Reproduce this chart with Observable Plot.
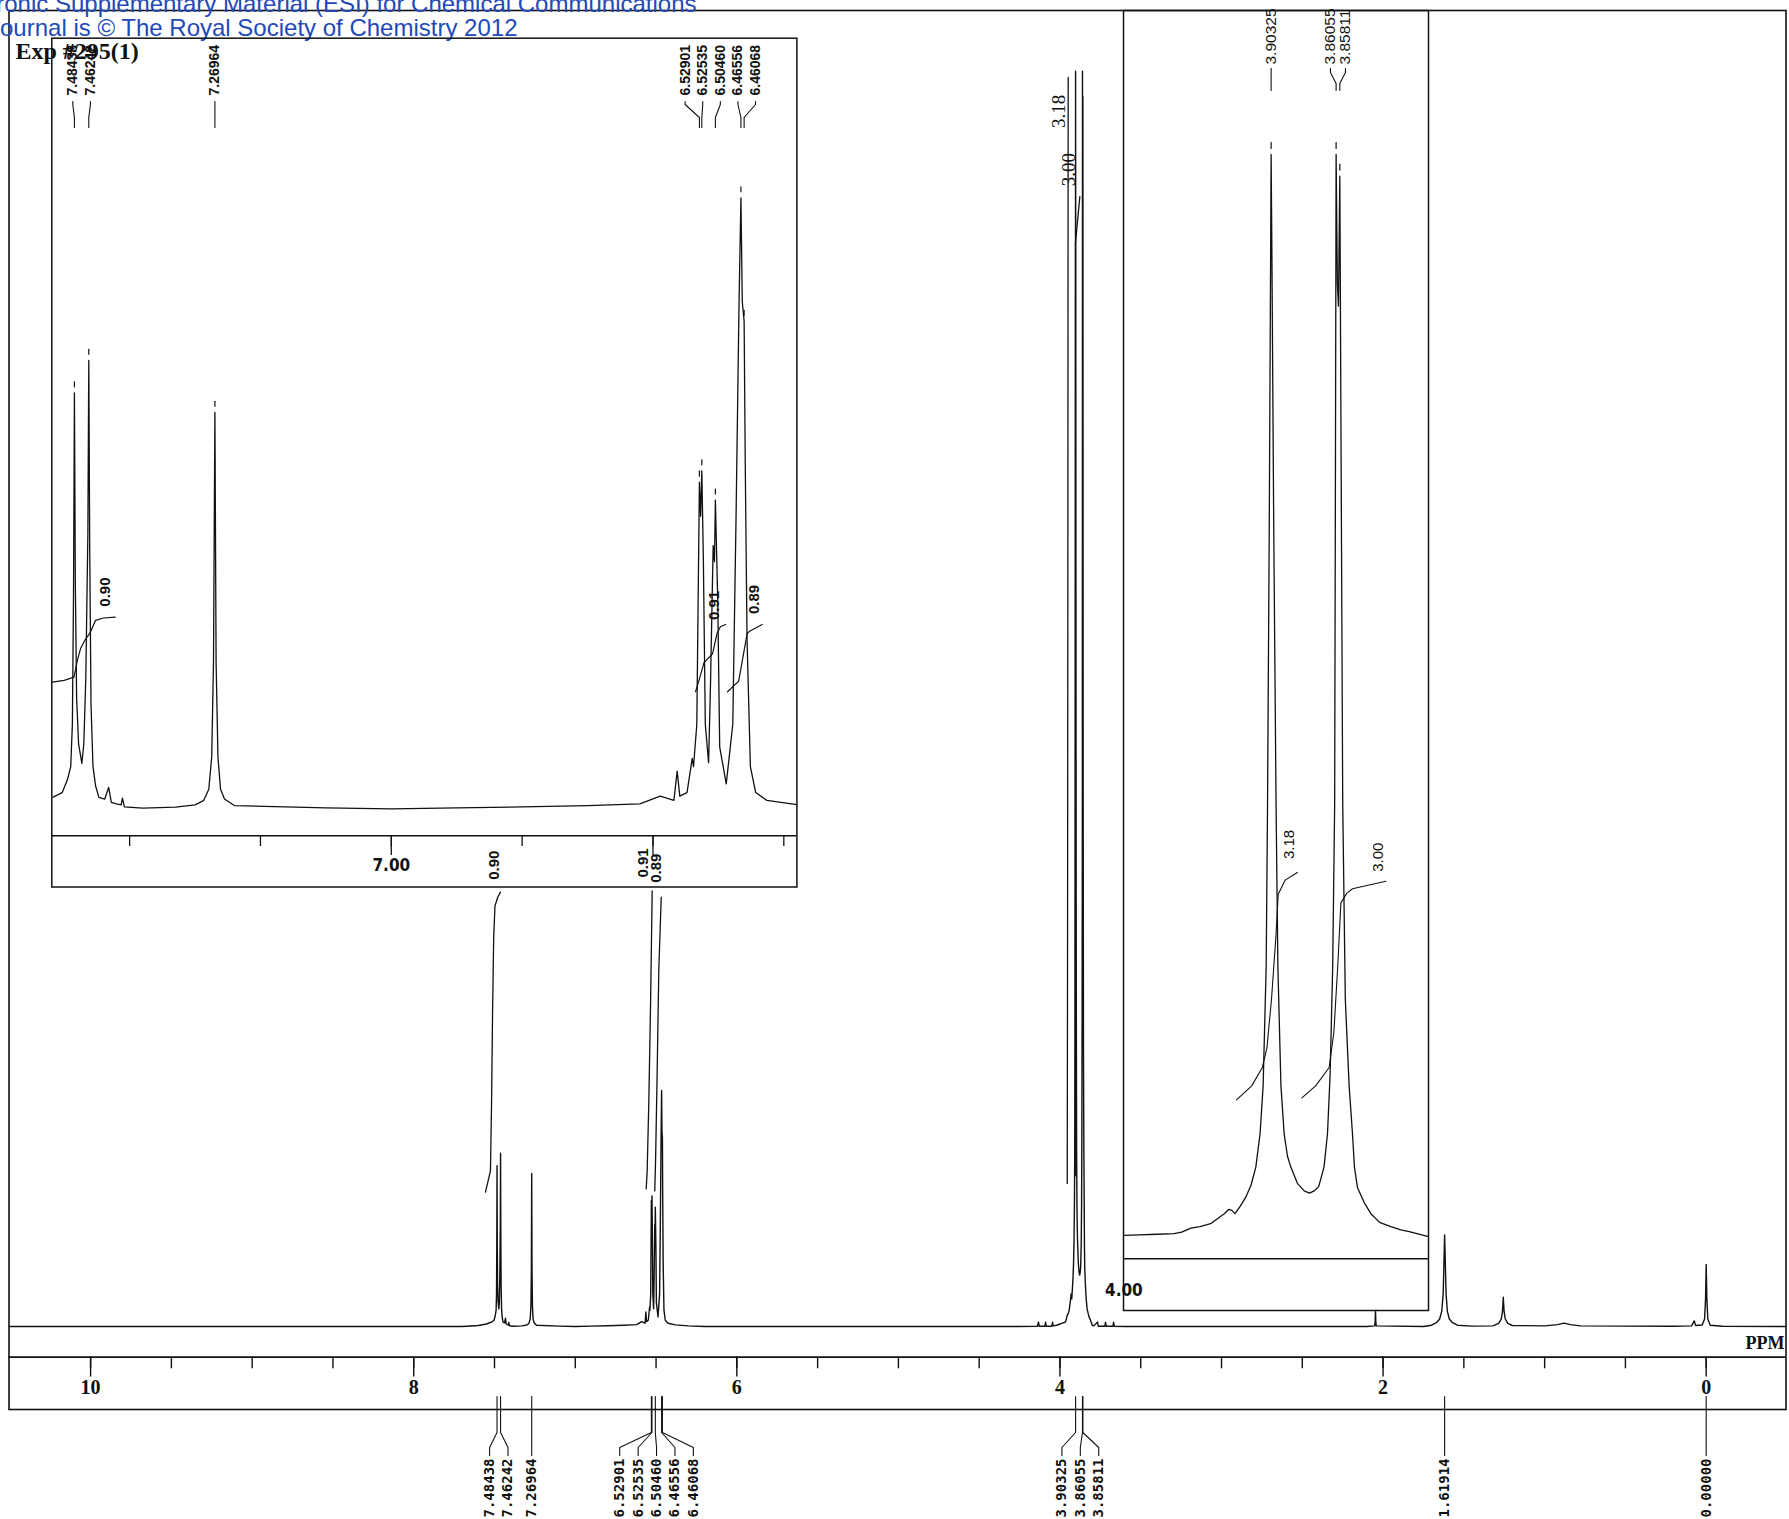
<!DOCTYPE html>
<html><head><meta charset="utf-8">
<script src="https://cdn.jsdelivr.net/npm/d3@7"></script>
<script src="https://cdn.jsdelivr.net/npm/@observablehq/plot@0.6"></script>
<style>
html,body{margin:0;padding:0;background:#fff;}
#page{position:relative;width:1789px;height:1519px;overflow:hidden;background:#fff;}
</style></head><body><div id="page"></div>
<script>
// ---------------- DATA ----------------
// 1H NMR trace: [ppm, relative intensity] (tallest line = 100)
const spectrum = [
 [10.5,0],[7.70,0],[7.60,0.08],[7.55,0.2],[7.517,0.36],[7.503,0.5],[7.495,0.9],[7.490,1.3],[7.4875,2.6],[7.4858,6.5],[7.48438,12.8],[7.4830,7],[7.4810,3.4],[7.4780,2.0],[7.4730,1.4],[7.4700,2.0],[7.4670,4.0],[7.4638,8.5],[7.46242,13.8],[7.4610,8],[7.4590,3.2],[7.4560,1.3],[7.4520,0.7],[7.4470,0.35],[7.4380,0.3],[7.4320,0.66],[7.4280,0.2],[7.4200,0.15],[7.4130,0.12],[7.4110,0.33],[7.4080,0.06],[7.3800,0.02],[7.3300,0.05],[7.3000,0.12],[7.2870,0.25],[7.2790,0.6],[7.2745,1.6],[7.2718,4.5],[7.26964,12.2],[7.2678,4.5],[7.2650,1.6],[7.2610,0.6],[7.2550,0.3],[7.2400,0.1],[7.1000,0.03],[7.0000,0],[6.9000,0.03],[6.8000,0.06],[6.7000,0.1],[6.6200,0.15],[6.5890,0.39],[6.5680,0.26],[6.5630,1.16],[6.5590,0.39],[6.5480,0.5],[6.5400,1.55],[6.5380,1.3],[6.5330,2.6],[6.52901,10.05],[6.5272,9.0],[6.52535,10.4],[6.5230,7.7],[6.5200,2.6],[6.5150,1.42],[6.5120,3.9],[6.5080,8.1],[6.5060,7.6],[6.50460,9.5],[6.5010,6.4],[6.4980,1.9],[6.4880,0.77],[6.4780,2.6],[6.4730,9.0],[6.4685,15.5],[6.46556,18.8],[6.4635,15.6],[6.46068,15.0],[6.4588,10.3],[6.4562,5.2],[6.4511,1.3],[6.4430,0.5],[6.4260,0.26],[6.3800,0.13],[6.3000,0.05],[6.2000,0],
 [4.30,0],[4.14,0.02],[4.133,0.35],[4.128,0.02],[4.093,0.02],[4.089,0.35],[4.085,0.02],[4.05,0.02],[4.046,0.35],[4.042,0.05],[4.02,0.1],
 [4.0,0.2],[3.990,0.25],[3.978,0.3],[3.967,0.35],[3.962,0.5],[3.956,0.86],[3.950,1.0],[3.943,1.27],[3.937,1.9],[3.934,2.2],[3.931,2.6],[3.929,2.5],[3.927,2.2],[3.9235,2.9],[3.920,3.7],[3.9165,4.8],[3.9133,6.5],[3.9105,9.6],[3.9085,14],[3.9065,25],[3.9056,40],[3.9045,65],[3.9036,90],[3.90325,100],[3.9027,90],[3.9015,65],[3.9000,40],[3.8988,25],[3.8968,14],[3.8947,9.6],[3.8925,7.5],[3.8903,6.5],[3.8860,5.0],[3.8815,4.3],[3.8780,4.1],[3.8750,4.3],[3.8720,4.7],[3.8685,6.5],[3.8662,9.6],[3.8645,15],[3.8628,25],[3.8615,40],[3.8610,70],[3.86055,100],[3.8597,88],[3.8590,86],[3.85811,98],[3.8572,70],[3.8562,40],[3.8545,22],[3.8520,14],[3.8498,9.6],[3.8485,6.5],[3.8465,4.6],[3.8420,3.2],[3.8377,2.2],[3.8320,1.4],[3.8246,1.0],[3.8180,0.7],[3.8125,0.55],[3.8005,0.1],
 [3.790,0.05],[3.767,0.35],[3.763,0.02],[3.722,0.02],[3.718,0.35],[3.714,0.02],[3.672,0.02],[3.668,0.35],[3.664,0.02],[3.60,0],
 [2.10,0],[2.052,0.05],[2.049,0.4],[2.047,1.27],[2.045,0.4],[2.042,0.05],
 [1.75,0],[1.70,0.1],[1.67,0.3],[1.65,0.6],[1.637,1.2],[1.628,2.6],[1.623,5.2],[1.61914,7.3],[1.615,5.2],[1.610,2.6],[1.602,1.2],[1.590,0.6],[1.570,0.3],[1.540,0.1],[1.45,0.03],
 [1.32,0.05],[1.285,0.25],[1.268,0.6],[1.261,1.2],[1.256,2.33],[1.251,1.2],[1.244,0.6],[1.228,0.25],[1.20,0.08],
 [1.00,0.05],[0.92,0.15],[0.88,0.27],[0.84,0.15],[0.78,0.05],
 [0.20,0.02],[0.09,0.05],[0.074,0.45],[0.065,0.08],[0.025,0.12],[0.010,0.6],[0.004,2.2],[0,4.94],[-0.004,2.2],[-0.010,0.6],[-0.025,0.1],[-0.10,0.02],[-0.495,0]
];
const mainTicks = [10,9.5,9,8.5,8,7.5,7,6.5,6,5.5,5,4.5,4,3.5,3,2.5,2,1.5,1,0.5,0];
const mainTickLabels = [10,8,6,4,2,0];
const mainPeaks = [7.48438,7.46242,7.26964,6.52901,6.52535,6.50460,6.46556,6.46068,3.90325,3.86055,3.85811,1.61914,0.00000];
const inset1Peaks = [7.48438,7.46242,7.26964,6.52901,6.52535,6.50460,6.46556,6.46068];
const inset2Peaks = [3.90325,3.86055,3.85811];
const inset1Ticks = [7.4,7.2,7.0,6.8,6.6,6.4];
const inset1LongTicks = [7.0,6.6];
const inset1TickLabels = [7.0];
const inset2TickLabels = [4.0];
const mainIntegralValues = ["0.90","0.91","0.89","3.18","3.00"];
const mainIntegralCurves = [
 [[7.556,10.7],[7.525,12.4],[7.518,18],[7.512,25],[7.505,31],[7.497,33.5],[7.480,34.2],[7.463,34.6]],
 [[6.561,10.97],[6.555,12.4],[6.545,17.8],[6.534,25.7],[6.524,34.7]],
 [[6.508,10.8],[6.503,13.2],[6.493,20.4],[6.483,28.4],[6.468,34.2]],
 [[3.955,11.4],[3.953,30],[3.951,60],[3.950,85],[3.949,99.5]],
 [[3.905,12],[3.9045,50],[3.904,86.3],[3.877,90.0]]
];
const inset1IntegralValues = ["0.90","0.91","0.89"];
const inset1IntegralCurves = [
 [[7.518,3.9],[7.500,3.95],[7.485,4.05],[7.480,4.56],[7.475,4.93],[7.468,5.2],[7.460,5.43],[7.452,5.8],[7.440,5.87],[7.422,5.9]],
 [[6.535,3.6],[6.529,4.0],[6.522,4.5],[6.509,4.77],[6.502,5.4],[6.497,5.6],[6.489,5.67]],
 [[6.486,3.6],[6.469,3.93],[6.464,4.5],[6.456,5.4],[6.451,5.48],[6.433,5.67]]
];
const inset2IntegralValues = ["3.18","3.00"];
const inset2IntegralCurves = [
 [[3.926,12.7],[3.916,14.0],[3.909,15.7],[3.906,17.5],[3.903,22],[3.900,28],[3.8986,31.7],[3.894,33.0],[3.886,33.7]],
 [[3.883,12.9],[3.874,14.0],[3.8651,15.7],[3.862,19],[3.8595,25],[3.8574,30.9],[3.8535,31.8],[3.8498,32.2],[3.8278,32.9]]
];
const headerLines = ["Electronic Supplementary Material (ESI) for Chemical Communications","This journal is \u00A9 The Royal Society of Chemistry 2012"];
const expTitle = "Exp #295(1)";
const unitLabel = "PPM";

// ---------------- LAYOUT / STYLE ----------------
const W = 1789, H = 1519, ink = "#111", blue = "#2349b8";
const mainX = {domain:[10,0], range:[90.1,1705.7]};
const mainY = {domain:[0,100], range:[1326,70.7]};
const in1X = {domain:[7,6.8], range:[390.8,521.64]};
const in1Y = {domain:[0,20], range:[808.3,158.3]};
const in2X = {domain:[3.903,3.803], range:[1271,1423.2]};
const in2Y = {domain:[0,100], range:[1237,154]};
const mainIntOffsets = [[-6,-27],[-9,-28],[-5,-29],[-9,34],[-11,-27]];
const in1IntOffsets = [[-10,-25],[-11,-19],[-8,-25]];
const in2IntOffsets = [[-8,-28],[-8,-24]];
const overlayStyle = {position:"absolute", left:"0px", top:"0px", background:"transparent", overflow:"visible"};

function spreadLabels(px, gap){
  let cl = px.map((p,i)=>({sum:p,n:1,idx:[i]}));
  const start = c => c.sum/c.n - (c.n-1)*gap/2;
  let merged = true;
  while(merged){
    merged = false;
    for(let i=0;i<cl.length-1;i++){
      if(start(cl[i+1]) < start(cl[i]) + cl[i].n*gap){
        const a=cl[i], b=cl[i+1];
        cl.splice(i,2,{sum:a.sum+b.sum,n:a.n+b.n,idx:a.idx.concat(b.idx)});
        merged = true; break;
      }
    }
  }
  const out = [];
  cl.forEach(c=>{const s=start(c); c.idx.forEach((j,k)=>out[j]=s+k*gap);});
  return out;
}
const peakTop = p => spectrum.find(d => Math.abs(d[0]-p) < 1e-9)[1];
function curveRows(curves){ return curves.flatMap((c,k)=>c.map(([x,y])=>({k,x,y}))); }
function intLabelMarks(curves, values, offs, sx, sy, font){
  return Plot.text(values, {
    x: (v,i)=>{const e=curves[i][curves[i].length-1]; return sx.invert(sx.apply(e[0])+offs[i][0]);},
    y: (v,i)=>{const e=curves[i][curves[i].length-1]; return sy.invert(sy.apply(e[1])+offs[i][1]);},
    text: v=>v, rotate:-90, textAnchor:"middle", lineAnchor:"middle", fill: ink, ...font
  });
}

// ---------------- MAIN SPECTRUM ----------------
const sx = Plot.scale({x: mainX}), sy = Plot.scale({y: mainY});
const mLab = spreadLabels(mainPeaks.map(p=>sx.apply(p)), 18.4);
const mConn = mainPeaks.flatMap((p,i)=>[
  {i,x:p,y:sy.invert(1396)},{i,x:p,y:sy.invert(1432)},
  {i,x:sx.invert(mLab[i]),y:sy.invert(1447)},{i,x:sx.invert(mLab[i]),y:sy.invert(1455)}]);
const serifBold = {fontFamily:"Liberation Serif, Times New Roman, serif", fontWeight:"bold"};

const mainPlot = Plot.plot({
  width: W, height: H, marginTop: 10, marginLeft: 8.5, marginRight: 3.5, marginBottom: 110,
  x: {...mainX, axis: null}, y: {...mainY, axis: null},
  style: {background:"white", position:"absolute", left:"0px", top:"0px", overflow:"visible"},
  marks: [
    Plot.frame({stroke: ink, strokeWidth: 1.6}),
    Plot.ruleY([sy.invert(1356.6)], {stroke: ink, strokeWidth: 1.6}),
    Plot.ruleX(mainTicks, {y1: sy.invert(1356.6), y2: sy.invert(1368.3), stroke: ink, strokeWidth: 1.4}),
    Plot.ruleX(mainTickLabels, {y1: sy.invert(1356.6), y2: sy.invert(1376.6), stroke: ink, strokeWidth: 1.4}),
    Plot.text(mainTickLabels, {x: d=>d, y: sy.invert(1387), text: d=>String(d), fontSize: 20, ...serifBold, fill: ink}),
    Plot.text([unitLabel], {x: sx.invert(1784), y: sy.invert(1343), textAnchor:"end", fontSize: 18, ...serifBold, fill: ink}),
    Plot.line(spectrum, {x: d=>d[0], y: d=>d[1], stroke: ink, strokeWidth: 1.4, curve: "linear"}),
    Plot.line(mConn, {x:"x", y:"y", z:"i", stroke: ink, strokeWidth: 1.1}),
    Plot.text(mainPeaks, {x:(p,i)=>sx.invert(mLab[i]), y: sy.invert(1458), text: p=>p.toFixed(5), rotate:-90, textAnchor:"end", lineAnchor:"middle", fontFamily:"DejaVu Sans Mono, monospace", fontWeight:"bold", fontSize: 14, fill: ink}),
    Plot.line(curveRows(mainIntegralCurves), {x:"x", y:"y", z:"k", stroke: ink, strokeWidth: 1.3}),
    intLabelMarks(mainIntegralCurves.slice(0,3), mainIntegralValues.slice(0,3), mainIntOffsets.slice(0,3), sx, sy, {fontFamily:"Liberation Sans, Arial, sans-serif", fontWeight:"bold", fontSize: 15}),
    intLabelMarks(mainIntegralCurves.slice(3), mainIntegralValues.slice(3), mainIntOffsets.slice(3), sx, sy, {fontFamily:"Liberation Serif, serif", fontWeight:"normal", fontSize: 19}),
    Plot.text([expTitle], {x: sx.invert(15), y: sy.invert(58), textAnchor:"start", lineAnchor:"bottom", fontSize: 24, ...serifBold, fill: ink}),
    Plot.text([headerLines[0]], {x: sx.invert(696), y: sy.invert(11), textAnchor:"end", lineAnchor:"bottom", fontSize: 24, fontFamily:"Liberation Sans, Arial, sans-serif", fill: blue}),
    Plot.text([headerLines[1]], {x: sx.invert(517), y: sy.invert(35), textAnchor:"end", lineAnchor:"bottom", fontSize: 24, fontFamily:"Liberation Sans, Arial, sans-serif", fill: blue})
  ]
});

// ---------------- INSET 1 (7.52 - 6.38 ppm) ----------------
const s1x = Plot.scale({x: in1X}), s1y = Plot.scale({y: in1Y});
const i1Lab = spreadLabels(inset1Peaks.map(p=>s1x.apply(p)), 17.6);
const i1Conn = inset1Peaks.flatMap((p,i)=>[
  {i,x:s1x.invert(i1Lab[i]),y:s1y.invert(101)},{i,x:s1x.invert(i1Lab[i]),y:s1y.invert(104)},
  {i,x:p,y:s1y.invert(117)},{i,x:p,y:s1y.invert(127)}]);
const i1Dash = inset1Peaks.flatMap((p,i)=>[{i,x:p,y:s1y.invert(s1y.apply(peakTop(p))-6)},{i,x:p,y:s1y.invert(s1y.apply(peakTop(p))-11)}]);
const narrowBold = {fontFamily:"Liberation Sans Narrow, Arial Narrow, DejaVu Sans Condensed, Liberation Sans, sans-serif", fontWeight:"bold"};

const inset1 = Plot.plot({
  width: W, height: H, marginTop: 37.7, marginLeft: 51.3, marginRight: 992.6, marginBottom: 632.5,
  x: {...in1X, axis: null}, y: {...in1Y, axis: null}, style: overlayStyle,
  marks: [
    Plot.frame({stroke: ink, strokeWidth: 1.5}),
    Plot.ruleY([s1y.invert(835.2)], {stroke: ink, strokeWidth: 1.5}),
    Plot.ruleX(inset1Ticks, {y1: s1y.invert(835.2), y2: s1y.invert(846), stroke: ink, strokeWidth: 1.3}),
    Plot.ruleX(inset1LongTicks, {y1: s1y.invert(835.2), y2: s1y.invert(855), stroke: ink, strokeWidth: 1.3}),
    Plot.text(inset1TickLabels, {x: d=>d, y: s1y.invert(865), text: d=>d.toFixed(2), fontSize: 17, ...narrowBold, fill: ink}),
    Plot.line(spectrum.filter(d=>d[0]<=7.519 && d[0]>=6.38), {x: d=>d[0], y: d=>d[1], stroke: ink, strokeWidth: 1.3}),
    Plot.line(i1Dash, {x:"x", y:"y", z:"i", stroke: ink, strokeWidth: 1.2}),
    Plot.line(i1Conn, {x:"x", y:"y", z:"i", stroke: ink, strokeWidth: 1.1}),
    Plot.text(inset1Peaks, {x:(p,i)=>s1x.invert(i1Lab[i]), y: s1y.invert(95), text: p=>p.toFixed(5), rotate:-90, textAnchor:"start", lineAnchor:"middle", fontFamily:"Liberation Sans, Arial, sans-serif", fontWeight:"bold", fontSize: 14, fill: ink}),
    Plot.line(curveRows(inset1IntegralCurves), {x:"x", y:"y", z:"k", stroke: ink, strokeWidth: 1.2}),
    intLabelMarks(inset1IntegralCurves, inset1IntegralValues, in1IntOffsets, s1x, s1y, {fontFamily:"Liberation Sans, Arial, sans-serif", fontWeight:"bold", fontSize: 15})
  ]
});

// ---------------- INSET 2 (4.00 - 3.80 ppm) ----------------
const s2x = Plot.scale({x: in2X}), s2y = Plot.scale({y: in2Y});
const i2Lab = spreadLabels(inset2Peaks.map(p=>s2x.apply(p)), 15);
const i2Conn = inset2Peaks.flatMap((p,i)=>[
  {i,x:s2x.invert(i2Lab[i]),y:s2y.invert(68)},{i,x:s2x.invert(i2Lab[i]),y:s2y.invert(72)},
  {i,x:p,y:s2y.invert(83)},{i,x:p,y:s2y.invert(90)}]);
const i2Dash = inset2Peaks.flatMap((p,i)=>[{i,x:p,y:s2y.invert(s2y.apply(peakTop(p))-6)},{i,x:p,y:s2y.invert(s2y.apply(peakTop(p))-12)}]);

const inset2 = Plot.plot({
  width: W, height: H, marginTop: 10, marginLeft: 1123, marginRight: 361, marginBottom: 209,
  x: {...in2X, axis: null}, y: {...in2Y, axis: null}, style: overlayStyle,
  marks: [
    Plot.frame({stroke: ink, strokeWidth: 1.5}),
    Plot.ruleY([s2y.invert(1258.3)], {stroke: ink, strokeWidth: 1.5}),
    Plot.text(inset2TickLabels, {x: d=>d, y: s2y.invert(1290), text: d=>d.toFixed(2), fontSize: 17, ...narrowBold, fill: ink}),
    Plot.line(spectrum.filter(d=>d[0]<=4.0 && d[0]>=3.8005), {x: d=>d[0], y: d=>d[1], stroke: ink, strokeWidth: 1.3}),
    Plot.line(i2Dash, {x:"x", y:"y", z:"i", stroke: ink, strokeWidth: 1.2}),
    Plot.line(i2Conn, {x:"x", y:"y", z:"i", stroke: ink, strokeWidth: 1.1}),
    Plot.text(inset2Peaks, {x:(p,i)=>s2x.invert(i2Lab[i]), y: s2y.invert(64), text: p=>p.toFixed(5), rotate:-90, textAnchor:"start", lineAnchor:"middle", fontFamily:"Liberation Sans, Arial, sans-serif", fontSize: 15.5, fill: ink}),
    Plot.line(curveRows(inset2IntegralCurves), {x:"x", y:"y", z:"k", stroke: ink, strokeWidth: 1.1}),
    intLabelMarks(inset2IntegralCurves, inset2IntegralValues, in2IntOffsets, s2x, s2y, {fontFamily:"Liberation Sans, Arial, sans-serif", fontWeight:"normal", fontSize: 15})
  ]
});

const page = document.getElementById("page");
page.append(mainPlot, inset1, inset2);
</script></body></html>
